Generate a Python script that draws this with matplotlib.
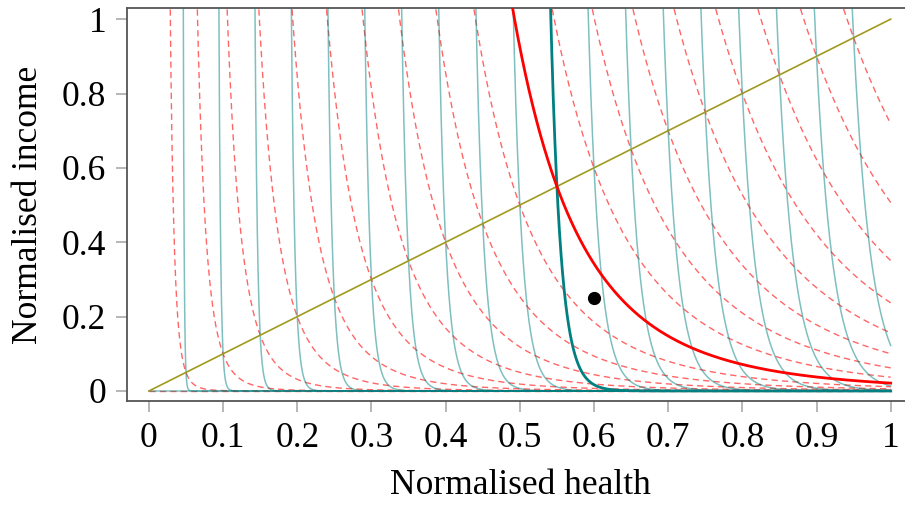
import numpy as np
import matplotlib
matplotlib.use("Agg")
import matplotlib.pyplot as plt

# ---- data ----
levels = [0.0, 0.05, 0.10, 0.15, 0.20, 0.25, 0.30, 0.35, 0.40, 0.45,
          0.50, 0.55, 0.60, 0.65, 0.70, 0.75, 0.80, 0.85, 0.90, 0.95]
highlight_level = 0.55
teal_exponent = 40.0     # steepness of teal iso-curves (x^r * y = d^(1+r))
red_exponent = 5.45      # steepness of red iso-curves
point_x = [0.6]
point_y = [0.25]
diag_x = [0.0, 1.0]
diag_y = [0.0, 1.0]
xticks = [0, 0.1, 0.2, 0.3, 0.4, 0.5, 0.6, 0.7, 0.8, 0.9, 1.0]
xticklabels = ["0", "0.1", "0.2", "0.3", "0.4", "0.5", "0.6", "0.7", "0.8", "0.9", "1"]
yticks = [0, 0.2, 0.4, 0.6, 0.8, 1.0]
yticklabels = ["0", "0.2", "0.4", "0.6", "0.8", "1"]
xlabel = "Normalised health"
ylabel = "Normalised income"

plt.rcParams['font.family'] = ['Liberation Serif', 'DejaVu Serif']

fig = plt.figure(figsize=(9.05, 5.05), dpi=100)
ax = fig.add_axes([0.1403, 0.2059, 1.0088 - 0.1403, 0.9842 - 0.2059])

YMAX = 1.03


def iso_curve(d, r):
    if d <= 0:
        return np.array([0.0, 1.0]), np.array([0.0, 0.0])
    x_top = d * (d / 1.08) ** (1.0 / r)
    x = np.linspace(x_top, 1.0, 20000)
    y = d * (d / x) ** r
    return x, y


red_c = (1.0, 0.0, 0.0)
teal_c = (0.0, 0.5, 0.5)

# red dashed family
for d in levels:
    if abs(d - highlight_level) < 1e-9:
        continue
    x, y = iso_curve(d, red_exponent)
    ax.plot(x, y, color=red_c, alpha=0.6, lw=1.0, dashes=(4.5, 3.0), zorder=2)

# teal family
for d in levels:
    if abs(d - highlight_level) < 1e-9:
        continue
    x, y = iso_curve(d, teal_exponent)
    ax.plot(x, y, color=teal_c, alpha=0.5, lw=1.1, zorder=3)

# diagonal
ax.plot(diag_x, diag_y, color='#a09a1e', lw=1.2, zorder=4)

# highlighted curves
x, y = iso_curve(highlight_level, teal_exponent)
ax.plot(x, y, color=teal_c, lw=2.0, zorder=5)
x, y = iso_curve(highlight_level, red_exponent)
ax.plot(x, y, color=red_c, lw=2.0, zorder=6)

ax.plot(point_x, point_y, 'o', color='black', markersize=8.5, zorder=7)

ax.set_xlim(-0.0296, 1.03)
ax.set_ylim(-0.027, YMAX)
ax.set_xticks(xticks)
ax.set_xticklabels(xticklabels)
ax.set_yticks(yticks)
ax.set_yticklabels(yticklabels)

for s in ['left', 'bottom', 'top', 'right']:
    ax.spines[s].set_color('#555555')
    ax.spines[s].set_linewidth(1.3)

ax.tick_params(axis='both', direction='out', length=8, width=1.2,
               color='#aaaaaa', labelsize=25.5, pad=7)
ax.tick_params(top=False, right=False)

ax.set_xlabel(xlabel, fontsize=25.5, labelpad=10)
ax.set_ylabel(ylabel, fontsize=25.5, labelpad=12)

fig.savefig("out.png", dpi=100)
